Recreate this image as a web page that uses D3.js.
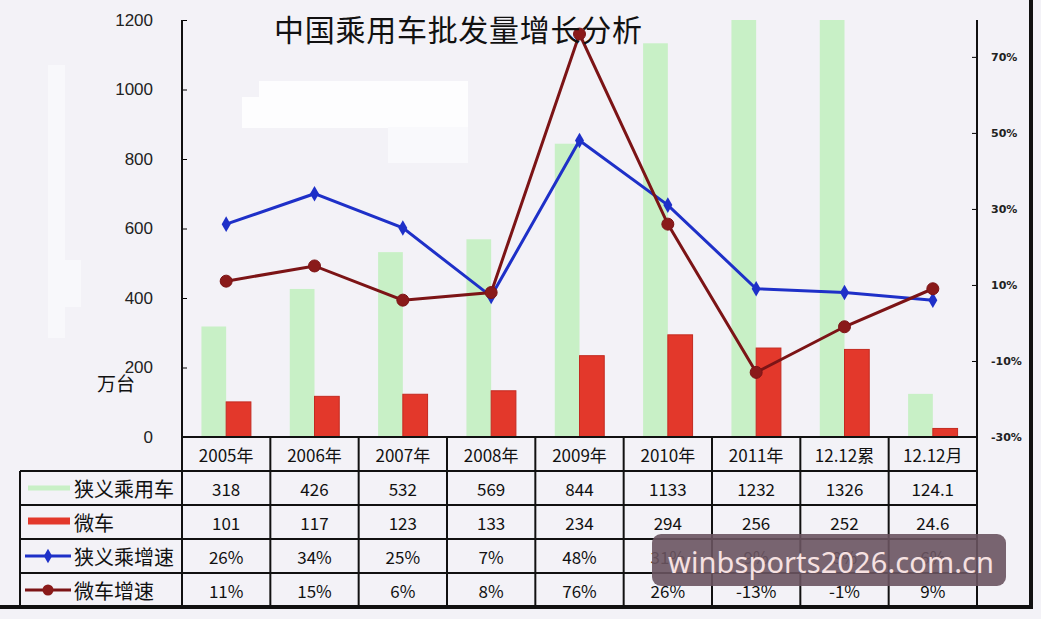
<!DOCTYPE html>
<html>
<head>
<meta charset="utf-8">
<script src="https://cdn.jsdelivr.net/npm/d3@7"></script>
<style>
  body { margin: 0; background: #f3f2f7; }
  svg { display: block; }
</style>
</head>
<body>
<script>
var categories = ['2005年', '2006年', '2007年', '2008年', '2009年', '2010年', '2011年', '12.12累', '12.12月'];
var narrowVol = [318, 426, 532, 569, 844, 1133, 1232, 1326, 124.1];
var microVol = [101, 117, 123, 133, 234, 294, 256, 252, 24.6];
var narrowGrowth = [26, 34, 25, 7, 48, 31, 9, 8, 6];
var microGrowth = [11, 15, 6, 8, 76, 26, -13, -1, 9];
var leftTicks = [0, 200, 400, 600, 800, 1000, 1200];
var rightTicks = [-30, -10, 10, 30, 50, 70];
var rowNames = ['狭义乘用车', '微车', '狭义乘增速', '微车增速'];

var green = '#c8f0c6', red = '#e3382b', blue = '#1e30c8', maroon = '#7c1416';

var svg = d3.select('body').append('svg').attr('width', 1041).attr('height', 619);

svg.append('rect').attr('width', 1041).attr('height', 619).attr('fill', '#f3f2f7');

// white patches left over in the picture
var patches = [[259, 81, 209, 18, '#fdfdfe'], [242, 97, 226, 31, '#fdfdfe'], [388, 127, 80, 36, '#f9f9fc'],
               [48, 65, 17, 273, '#f8f8fb'], [48, 260, 33, 47, '#f8f8fb']];
svg.selectAll('rect.patch')
    .data(patches)
    .enter().append('rect')
    .attr('class', 'patch')
    .attr('x', function(d){ return d[0]; })
    .attr('y', function(d){ return d[1]; })
    .attr('width', function(d){ return d[2]; })
    .attr('height', function(d){ return d[3]; })
    .attr('fill', function(d){ return d[4]; });

var x = d3.scaleBand().domain(categories).range([182, 977]);
var y = d3.scaleLinear().domain([0, 1200]).range([437, 20]).clamp(true);
var y2 = d3.scaleLinear().domain([-30, 79.7]).range([437, 20]);
var rows = d3.scaleBand().domain(['header'].concat(rowNames)).range([437, 607]);

var bw = x.bandwidth() * 0.28;
function cx(d){ return x(d) + x.bandwidth() / 2; }

svg.selectAll('rect.green')
    .data(narrowVol)
    .enter().append('rect')
    .attr('class', 'green')
    .attr('x', function(d, i){ return cx(categories[i]) - bw; })
    .attr('y', function(d){ return y(d); })
    .attr('width', bw)
    .attr('height', function(d){ return 437 - y(d); })
    .attr('fill', green);

svg.selectAll('rect.red')
    .data(microVol)
    .enter().append('rect')
    .attr('class', 'red')
    .attr('x', function(d, i){ return cx(categories[i]); })
    .attr('y', function(d){ return y(d); })
    .attr('width', bw)
    .attr('height', function(d){ return 437 - y(d); })
    .attr('fill', red)
    .attr('stroke', '#c42a20')
    .attr('stroke-width', 1);

var line = d3.line()
    .x(function(d, i){ return cx(categories[i]); })
    .y(function(d){ return y2(d); });

svg.append('path').datum(narrowGrowth)
    .attr('d', line).attr('fill', 'none')
    .attr('stroke', blue).attr('stroke-width', 3);

svg.selectAll('path.diamond')
    .data(narrowGrowth)
    .enter().append('path')
    .attr('class', 'diamond')
    .attr('d', d3.symbol().type(d3.symbolDiamond).size(70))
    .attr('transform', function(d, i){ return 'translate(' + cx(categories[i]) + ',' + y2(d) + ')'; })
    .attr('fill', blue);

svg.append('path').datum(microGrowth)
    .attr('d', line).attr('fill', 'none')
    .attr('stroke', maroon).attr('stroke-width', 3);

svg.selectAll('circle.dot')
    .data(microGrowth)
    .enter().append('circle')
    .attr('class', 'dot')
    .attr('cx', function(d, i){ return cx(categories[i]); })
    .attr('cy', function(d){ return y2(d); })
    .attr('r', 6)
    .attr('fill', '#8a1a1a')
    .attr('stroke', maroon);

// axes
var leftAxis = svg.append('g')
    .attr('transform', 'translate(182,0)')
    .call(d3.axisLeft(y).tickValues(leftTicks).tickSize(-5).tickPadding(29).tickSizeOuter(0)
        .tickFormat(d3.format('d')));
leftAxis.selectAll('text').attr('font-family', 'Liberation Sans').attr('font-size', 17).attr('fill', '#222');
leftAxis.select('.domain').remove();

var rightAxis = svg.append('g')
    .attr('transform', 'translate(977,0)')
    .call(d3.axisRight(y2).tickValues(rightTicks).tickSize(-5).tickPadding(14).tickSizeOuter(0)
        .tickFormat(function(d){ return d + '%'; }));
rightAxis.selectAll('text').attr('font-family', 'DejaVu Sans').attr('font-weight', 'bold')
    .attr('font-size', 11).attr('fill', '#222');
rightAxis.select('.domain').remove();

svg.append('text')
    .attr('x', 458).attr('y', 28)
    .attr('text-anchor', 'middle').attr('dominant-baseline', 'central')
    .attr('font-family', 'Noto Sans CJK SC').attr('font-size', 30).attr('fill', '#111')
    .attr('textLength', 368)
    .text('中国乘用车批发量增长分析');

svg.append('text')
    .attr('x', 97).attr('y', 382)
    .attr('dominant-baseline', 'central')
    .attr('font-family', 'Noto Sans CJK SC').attr('font-size', 19).attr('fill', '#111')
    .text('万台');

// table grid
var grid = svg.append('g').attr('stroke', '#111').attr('stroke-width', 2);
grid.append('line').attr('x1', 182).attr('x2', 182).attr('y1', 20).attr('y2', 607);
grid.append('line').attr('x1', 977).attr('x2', 977).attr('y1', 20).attr('y2', 607);
grid.append('line').attr('x1', 182).attr('x2', 977).attr('y1', 437).attr('y2', 437);
grid.append('line').attr('x1', 20).attr('x2', 20).attr('y1', rows('狭义乘用车')).attr('y2', 607);
grid.selectAll('line.h')
    .data(rowNames)
    .enter().append('line')
    .attr('class', 'h')
    .attr('x1', 20).attr('x2', 977)
    .attr('y1', function(d){ return rows(d); })
    .attr('y2', function(d){ return rows(d); });
grid.selectAll('line.v')
    .data(categories.slice(1))
    .enter().append('line')
    .attr('class', 'v')
    .attr('x1', function(d){ return x(d); }).attr('x2', function(d){ return x(d); })
    .attr('y1', 437).attr('y2', 607);

var cellFont = 'Noto Sans CJK SC';
function rowMid(r){ return rows(r) + rows.bandwidth() / 2; }

svg.selectAll('text.head')
    .data(categories)
    .enter().append('text')
    .attr('class', 'head')
    .attr('x', function(d){ return cx(d); })
    .attr('y', rowMid('header'))
    .attr('text-anchor', 'middle').attr('dominant-baseline', 'central')
    .attr('font-family', cellFont).attr('font-size', 17).attr('fill', '#111')
    .text(function(d){ return d; });

var tableRows = [
    { name: '狭义乘用车', vals: narrowVol, fmt: function(d){ return d; } },
    { name: '微车', vals: microVol, fmt: function(d){ return d; } },
    { name: '狭义乘增速', vals: narrowGrowth, fmt: function(d){ return d + '%'; } },
    { name: '微车增速', vals: microGrowth, fmt: function(d){ return d + '%'; } }
];

tableRows.forEach(function(r){
    svg.selectAll('text.c' + r.name)
        .data(r.vals)
        .enter().append('text')
        .attr('x', function(d, i){ return cx(categories[i]); })
        .attr('y', rowMid(r.name))
        .attr('text-anchor', 'middle').attr('dominant-baseline', 'central')
        .attr('font-family', cellFont).attr('font-size', 17).attr('fill', '#111')
        .text(r.fmt);
    svg.append('text')
        .attr('x', 74).attr('y', rowMid(r.name))
        .attr('dominant-baseline', 'central')
        .attr('font-family', cellFont).attr('font-size', 20).attr('fill', '#111')
        .text(r.name);
});

// legend swatches
svg.append('line').attr('x1', 28).attr('x2', 70).attr('y1', rowMid('狭义乘用车')).attr('y2', rowMid('狭义乘用车'))
    .attr('stroke', green).attr('stroke-width', 5);
svg.append('line').attr('x1', 28).attr('x2', 70).attr('y1', rowMid('微车') - 1).attr('y2', rowMid('微车') - 1)
    .attr('stroke', red).attr('stroke-width', 7);
svg.append('line').attr('x1', 25).attr('x2', 71).attr('y1', rowMid('狭义乘增速')).attr('y2', rowMid('狭义乘增速'))
    .attr('stroke', blue).attr('stroke-width', 3);
svg.append('path').attr('d', d3.symbol().type(d3.symbolDiamond).size(60))
    .attr('transform', 'translate(48,' + rowMid('狭义乘增速') + ')').attr('fill', blue);
svg.append('line').attr('x1', 25).attr('x2', 71).attr('y1', rowMid('微车增速')).attr('y2', rowMid('微车增速'))
    .attr('stroke', maroon).attr('stroke-width', 3);
svg.append('circle').attr('cx', 48).attr('cy', rowMid('微车增速')).attr('r', 5.5).attr('fill', '#8a1a1a');

// outer frame
svg.append('line').attr('x1', 1031).attr('x2', 1031).attr('y1', 0).attr('y2', 609)
    .attr('stroke', '#111').attr('stroke-width', 4);
svg.append('line').attr('x1', 0).attr('x2', 1033).attr('y1', 607).attr('y2', 607)
    .attr('stroke', '#111').attr('stroke-width', 4);

// watermark
svg.append('rect')
    .attr('x', 652).attr('y', 534).attr('width', 354).attr('height', 52).attr('rx', 9)
    .attr('fill', '#6a5460').attr('opacity', 0.9);
svg.append('text')
    .attr('x', 831).attr('y', 573)
    .attr('text-anchor', 'middle')
    .attr('font-family', 'Noto Sans').attr('font-size', 29).attr('fill', '#f6e1e1')
    .attr('textLength', 326)
    .text('winbsports2026.com.cn');
</script>
</body>
</html>
